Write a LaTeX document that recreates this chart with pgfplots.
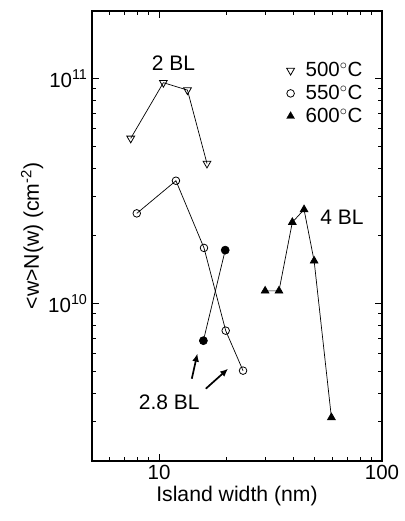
\documentclass[border=0pt]{standalone}
\usepackage{pgfplots}
\pgfplotsset{compat=1.18}
\usepackage{fontspec}
\setmainfont{Liberation Sans}
\usetikzlibrary{arrows.meta}
\begin{document}
\begin{tikzpicture}
\begin{loglogaxis}[
  scale only axis,
  width=290pt, height=450pt,
  xmin=5, xmax=100, ymin=2e9, ymax=2e11,
  axis line style={line width=1.2pt},
  xtick={10,100}, xticklabels={10,100},
  ytick={1e10,1e11}, yticklabels={10\textsuperscript{10},10\textsuperscript{11}},
  minor xtick={5,6,7,8,9,20,30,40,50,60,70,80,90},
  minor ytick={2e9,3e9,4e9,5e9,6e9,7e9,8e9,9e9,2e10,3e10,4e10,5e10,6e10,7e10,8e10,9e10},
  tick align=inside,
  major tick length=7pt, minor tick length=4pt,
  every tick/.style={line width=1pt, black},
  ticklabel style={font=\fontsize{20.5}{24}\selectfont},
  xticklabel style={yshift=-1pt},
  yticklabel style={xshift=-1pt},
  label style={font=\fontsize{21.2}{25}\selectfont},
  xlabel={Island width (nm)},
  ylabel={<w>N(w) (cm\textsuperscript{-2})},
  xlabel style={yshift=1pt},
  ylabel style={yshift=-2pt},
  legend cell align=left,
  legend image code/.code={\path[draw=none,fill=none] (0pt,-4pt) rectangle (14pt,4pt); \draw[#1] plot coordinates {(7pt,0pt)};},
  legend style={draw=none, fill=none, font=\fontsize{20.5}{24}\selectfont,
     inner sep=0pt, row sep=3pt, column sep=6pt},
  legend style={at={(axis description cs:0.66,0.89)}, anchor=north west},
]
\addlegendimage{only marks, mark=triangle, mark size=4.5pt, mark options={rotate=180, fill=white, line width=0.8pt}}
\addlegendentry{500$^{\circ}$C}
\addlegendimage{only marks, mark=o, mark size=3.8pt, mark options={line width=0.8pt}}
\addlegendentry{550$^{\circ}$C}
\addlegendimage{only marks, mark=triangle*, mark size=4.5pt, mark options={fill=black}}
\addlegendentry{600$^{\circ}$C}

\addplot[black, line width=0.7pt, mark=triangle, mark size=4.5pt, mark options={rotate=180, fill=white, line width=0.8pt}, forget plot]
  coordinates {(7.46,5.43e10) (10.45,9.6e10) (13.4,8.9e10) (16.4,4.2e10)};
\addplot[black, line width=0.7pt, mark=o, mark size=3.8pt, mark options={fill=white, line width=0.8pt}, forget plot]
  coordinates {(7.94,2.52e10) (11.9,3.52e10) (15.9,1.77e10) (19.9,7.59e9) (23.8,5.04e9)};
\addplot[black, line width=0.7pt, mark=*, mark size=4pt, mark options={fill=black}, forget plot]
  coordinates {(15.8,6.85e9) (19.8,1.73e10)};
\addplot[black, line width=0.7pt, mark=triangle*, mark size=4.5pt, mark options={fill=black}, forget plot]
  coordinates {(29.9,1.14e10) (34.5,1.14e10) (39.6,2.30e10) (44.7,2.62e10) (49.6,1.55e10) (59.3,3.12e9)};

\node[font=\fontsize{21}{25}\selectfont] at (axis cs:11.6,1.17e11) {2 BL};
\node[font=\fontsize{21}{25}\selectfont] at (axis cs:66.2,2.41e10) {4 BL};
\node[font=\fontsize{21}{25}\selectfont] at (axis cs:11.1,3.63e9) {2.8 BL};
\draw[-{Latex[length=8pt,width=7pt]}, line width=1.7pt] (axis cs:14.02,4.64e9) -- (axis cs:14.85,6.0e9);
\draw[-{Latex[length=8pt,width=7pt]}, line width=1.7pt] (axis cs:16.2,4.19e9) -- (axis cs:20.4,5.14e9);
\end{loglogaxis}
\pgfresetboundingbox
\path (current axis.south west) ++(-92pt,-60pt) coordinate (bl);
\path (current axis.north east) ++(22pt,11pt) coordinate (tr);
\useasboundingbox (bl) rectangle (tr);
\end{tikzpicture}
\end{document}
